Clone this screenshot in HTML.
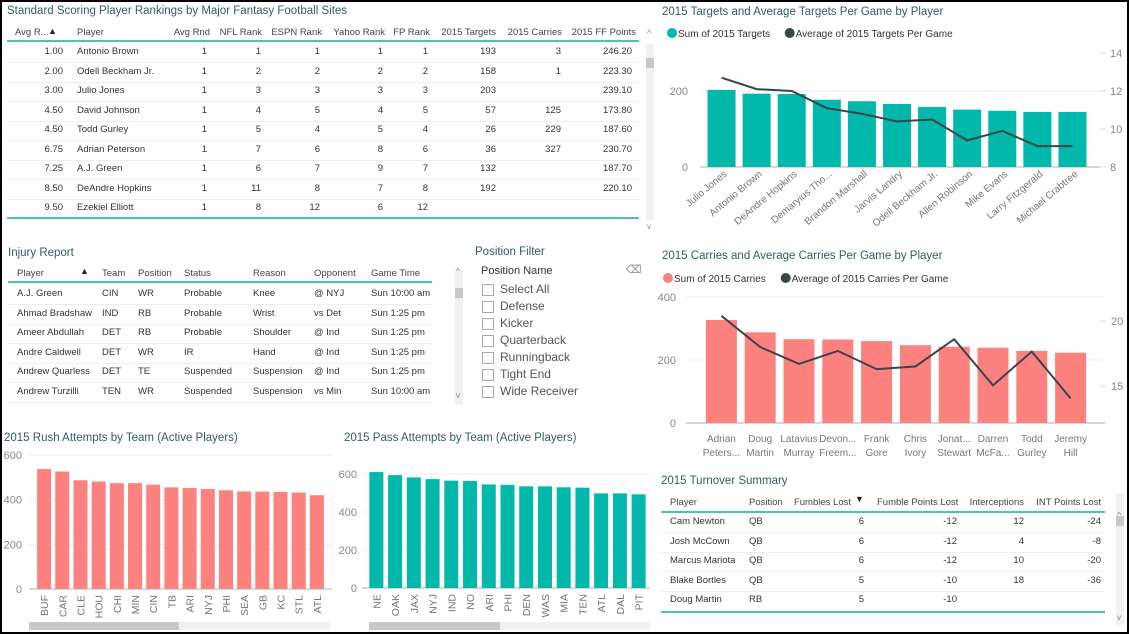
<!DOCTYPE html>
<html><head><meta charset="utf-8">
<style>
body{margin:0;width:1129px;height:634px;overflow:hidden;background:#fff;font-family:"Liberation Sans",sans-serif;}
#frame{position:absolute;left:0;top:0;width:1125px;height:630px;border:2px solid #000;}
.t{position:absolute;white-space:nowrap;font-size:9.5px;color:#333;}
.title{position:absolute;white-space:nowrap;font-size:11.5px;color:#2f5f5f;}
.hd{color:#444;}
.r{text-align:right;}
.line{position:absolute;height:2px;background:#4fc1b5;}
.sep{position:absolute;height:1px;background:#eee;}
.sb{position:absolute;background:#f1f1f1;}
.th{position:absolute;background:#c8c8c8;}
svg{position:absolute;left:0;top:0;}
</style></head><body>
<div id="frame"></div>
<div id="root"></div>
<svg id="chart" width="1129" height="634"></svg>
<script>
// ---------- DATA ----------
const tgtPlayers=["Julio Jones","Antonio Brown","DeAndre Hopkins","Demaryius Tho...","Brandon Marshall","Jarvis Landry","Odell Beckham Jr.","Allen Robinson","Mike Evans","Larry Fitzgerald","Michael Crabtree"];
const tgtSum=[203,193,192,177,173,166,158,151,148,145,145];
const tgtAvg=[12.7,12.1,12.0,11.1,10.8,10.4,10.5,9.4,9.9,9.1,9.1];
const tgtLeftTicks=[0,200];
const tgtRightTicks=[8,10,12,14];
const carPlayers=[["Adrian","Peters..."],["Doug","Martin"],["Latavius","Murray"],["Devon...","Freem..."],["Frank","Gore"],["Chris","Ivory"],["Jonat...","Stewart"],["Darren","McFa..."],["Todd","Gurley"],["Jeremy","Hill"]];
const carSum=[327,288,266,265,260,247,242,239,229,223];
const carAvg=[20.4,18.0,16.7,17.7,16.3,16.5,18.6,15.05,17.65,14.05];
const carLeftTicks=[0,200,400];
const carRightTicks=[15,20];
const rushTeams=["BUF","CAR","CLE","HOU","CHI","MIN","CIN","TB","ARI","NYJ","PHI","SEA","GB","KC","STL","ATL"];
const rushVals=[537,526,487,481,474,474,467,455,452,448,442,437,436,435,432,420];
const rushTicks=[0,200,400,600];
const passTeams=["NE","OAK","JAX","NYJ","IND","NO","ARI","PHI","DEN","WAS","MIA","TEN","ATL","DAL","PIT"];
const passVals=[610,594,582,573,565,563,545,543,535,535,530,528,498,498,493];
const passTicks=[0,200,400,600];

const root=document.getElementById('root');
const svg=document.getElementById('chart');
const NS="http://www.w3.org/2000/svg";
function div(cls,x,y,txt,extra){const d=document.createElement('div');d.className=cls;d.style.left=x+'px';d.style.top=y+'px';if(txt!==undefined)d.textContent=txt;if(extra)d.style.cssText+=extra;root.appendChild(d);return d;}
function rdiv(right,y,txt,cls){const d=div('t r '+(cls||''),right-80,y,txt,'width:80px');return d;}
function el(tag,attrs){const e=document.createElementNS(NS,tag);for(const k in attrs)e.setAttribute(k,attrs[k]);svg.appendChild(e);return e;}
function txt(x,y,s,attrs){const e=el('text',Object.assign({x:x,y:y,'font-size':'10','fill':'#777','font-family':'Liberation Sans, sans-serif'},attrs||{}));e.textContent=s;return e;}

// ---------- TOP TABLE ----------
let d;
d=div('title',7,5,'Standard Scoring Player Rankings by Major Fantasy Football Sites');

const rkHeaders=[["Avg R...",15,'l'],["Player",77,'l'],["Avg Rnd",210],["NFL Rank",262],["ESPN Rank",322],["Yahoo Rank",385],["FP Rank",430],["2015 Targets",496],["2015 Carries",562],["2015 FF Points",636]];
const rkRows=[["1.00","Antonio Brown","1","1","1","1","1","193","3","246.20"],["2.00","Odell Beckham Jr.","1","2","2","2","2","158","1","223.30"],["3.00","Julio Jones","1","3","3","3","3","203","","239.10"],["4.50","David Johnson","1","4","5","4","5","57","125","173.80"],["4.50","Todd Gurley","1","5","4","5","4","26","229","187.60"],["6.75","Adrian Peterson","1","7","6","8","6","36","327","230.70"],["7.25","A.J. Green","1","6","7","9","7","132","","187.70"],["8.50","DeAndre Hopkins","1","11","8","7","8","192","","220.10"],["9.50","Ezekiel Elliott","1","8","12","6","12","","",""]];
const rkRight=[63,0,207,261,320,383,428,496,561,632];
rkHeaders.forEach(h=>{let e;if(h[2]==='l')e=div('t hd',h[1],27,h[0]);else e=rdiv(h[1],27,h[0],'hd');});
div('t',48,26,'▲','font-size:9px;color:#222');
div('line',7,40,undefined,'width:632px');
rkRows.forEach((r,i)=>{const y=46+i*19.5;r.forEach((c,j)=>{if(j===1)div('t',77,y,c);else rdiv(rkRight[j],y,c);});if(i<8)div('sep',7,y+16,undefined,'width:632px');});
div('line',7,217,undefined,'width:632px');
div('sb',646,44,undefined,'width:8px;height:176px');div('th',646,58,undefined,'width:8px;height:10px');
div('t',647,28,'^','font-size:9px;color:#888');div('t',647,222,'v','font-size:8px;color:#888');

// ---------- INJURY REPORT ----------
d=div('title',8,247,'Injury Report');
const injCols=[17,102,138,184,253,314,371];
const injHead=["Player","Team","Position","Status","Reason","Opponent","Game Time"];
const injRows=[["A.J. Green","CIN","WR","Probable","Knee","@  NYJ","Sun 10:00 am"],["Ahmad Bradshaw","IND","RB","Probable","Wrist","vs  Det","Sun 1:25 pm"],["Ameer Abdullah","DET","RB","Probable","Shoulder","@  Ind","Sun 1:25 pm"],["Andre Caldwell","DET","WR","IR","Hand","@  Ind","Sun 1:25 pm"],["Andrew Quarless","DET","TE","Suspended","Suspension","@  Ind","Sun 1:25 pm"],["Andrew Turzilli","TEN","WR","Suspended","Suspension","vs  Min","Sun 10:00 am"]];
injHead.forEach((h,j)=>{const e=div('t hd',injCols[j],268,h);});
div('t',80,266,'▲','font-size:9px;color:#222');
div('line',8,281,undefined,'width:424px');
injRows.forEach((r,i)=>{const y=288+i*19.5;r.forEach((c,j)=>div('t',injCols[j],y,c));div('sep',8,y+16,undefined,'width:424px');});
div('sb',455,270,undefined,'width:8px;height:135px');div('th',455,288,undefined,'width:8px;height:10px');
div('t',456,266,'^','font-size:9px;color:#888');div('t',456,391,'v','font-size:8px;color:#888');

// ---------- POSITION FILTER ----------
d=div('title',475,246,'Position Filter');
d=div('t',481,265,'Position Name','font-size:11px;color:#333');
d=div('t',626,263,'⌫','font-size:11px;color:#888');
["Select All","Defense","Kicker","Quarterback","Runningback","Tight End","Wide Receiver"].forEach((s,i)=>{
 const y=283+i*17;
 const b=div('t',482,y+1,undefined,'width:10px;height:10px;border:1px solid #aaa;background:#fff');
 
 div('t',500,y-1,s,'font-size:12px;color:#555');
});

// ---------- TURNOVER SUMMARY ----------
d=div('title',661,475,'2015 Turnover Summary');
const toHead=[["Player",670,'l'],["Position",749,'l'],["Fumbles Lost",851],["Fumble Points Lost",957],["Interceptions",1024],["INT Points Lost",1101]];
toHead.forEach(h=>{let e;if(h[2]==='l')e=div('t hd',h[1],497,h[0]);else e=rdiv(h[1],497,h[0],'hd');});
div('t',855,494,'▼','font-size:9px;color:#222');
div('line',661,511,undefined,'width:444px');
const toRows=[["Cam Newton","QB","6","-12","12","-24"],["Josh McCown","QB","6","-12","4","-8"],["Marcus Mariota","QB","6","-12","10","-20"],["Blake Bortles","QB","5","-10","18","-36"],["Doug Martin","RB","5","-10","",""]];
const toRight=[0,0,864,957,1024,1101];
toRows.forEach((r,i)=>{const y=516+i*19.5;div('t',670,y,r[0]);div('t',749,y,r[1]);for(let j=2;j<6;j++)rdiv(toRight[j],y,r[j]);if(i<4)div('sep',661,y+16,undefined,'width:444px');});
div('line',661,611,undefined,'width:444px');
div('sb',1116,493,undefined,'width:8px;height:132px');div('th',1116,516,undefined,'width:8px;height:10px');
div('t',1117,510,'^','font-size:9px;color:#888');div('t',1117,613,'v','font-size:8px;color:#888');

// ---------- CHART HELPERS ----------
function scale(d0,d1,r0,r1){return v=>r0+(v-d0)/(d1-d0)*(r1-r0);}
function bars(vals,x0,band,bw,y,color,name){vals.forEach((v,i)=>{const r=el('rect',{x:x0+i*band+(band-bw)/2,y:y(v),width:bw,height:y(0)-y(v),fill:color});
 
 });}
function line(vals,x0,band,y,name){const p=vals.map((v,i)=>(x0+i*band+band/2)+','+y(v)).join(' ');const l=el('polyline',{points:p,fill:'none',stroke:'#374649','stroke-width':2});
 
 }
function legend(x,y,color,label){el('circle',{cx:x+5,cy:y-4,r:5,fill:color});const t=txt(x+11,y,label,{fill:'#333','font-size':'10'});return x+11+label.length*5.3+6;}

// ---------- TARGETS CHART ----------
(function(){
 const t=txt(662,15,'2015 Targets and Average Targets Per Game by Player',{fill:'#2f5f5f','font-size':'11.5'});
 let lx=legend(667,37,'#01b8aa','Sum of 2015 Targets');legend(lx,37,'#374649','Average of 2015 Targets Per Game');
 const x0=704,band=(1090-704)/tgtSum.length,yL=scale(0,200,167,91),yR=scale(8,14,167,53);
 tgtLeftTicks.forEach(v=>{if(v>0)el('line',{x1:700,x2:1102,y1:yL(v),y2:yL(v),stroke:'#eee'});txt(688,yL(v)+4,v,{'text-anchor':'end','fill':'#888','font-size':'11'});});
 tgtRightTicks.forEach(v=>{el('line',{x1:1100,x2:1106,y1:yR(v),y2:yR(v),stroke:'#ddd'});txt(1110,yR(v)+4,v,{'fill':'#888','font-size':'11'});});
 el('line',{x1:700,x2:1100,y1:167,y2:167,stroke:'#ccc','stroke-width':1.5});
 bars(tgtSum,x0,band,28,yL,'#01b8aa','targets-bar');
 line(tgtAvg,x0,band,yR,'avg-targets-line');
 tgtPlayers.forEach((p,i)=>{const cx=x0+i*band+band/2+6;txt(cx,175,p,{'text-anchor':'end','font-size':'10','fill':'#777',transform:`rotate(-40 ${cx} 175)`});});
})();

// ---------- CARRIES CHART ----------
(function(){
 const t=txt(662,259,'2015 Carries and Average Carries Per Game by Player',{fill:'#2f5f5f','font-size':'11.5'});
 let lx=legend(663,282,'#fd817e','Sum of 2015 Carries');legend(lx,282,'#374649','Average of 2015 Carries Per Game');
 const x0=702,band=(1090-702)/carSum.length,yL=scale(0,400,423,297),yR=scale(15,20,386,321);
 carLeftTicks.forEach(v=>{if(v>0)el('line',{x1:686,x2:1105,y1:yL(v),y2:yL(v),stroke:'#eee'});txt(676,yL(v)+4,v,{'text-anchor':'end','fill':'#888','font-size':'11'});});
 carRightTicks.forEach(v=>{el('line',{x1:1100,x2:1106,y1:yR(v),y2:yR(v),stroke:'#ddd'});txt(1111,yR(v)+4,v,{'fill':'#888','font-size':'11'});});
 el('line',{x1:686,x2:1105,y1:423,y2:423,stroke:'#ccc','stroke-width':1.5});
 bars(carSum,x0,band,31,yL,'#fd817e','carries-bar');
 line(carAvg,x0,band,yR,'avg-carries-line');
 carPlayers.forEach((p,i)=>{const cx=x0+i*band+band/2;txt(cx,442,p[0],{'text-anchor':'middle','font-size':'10'});txt(cx,456,p[1],{'text-anchor':'middle','font-size':'10'});});
})();

// ---------- RUSH CHART ----------
(function(){
 const t=txt(4,441,'2015 Rush Attempts by Team (Active Players)',{fill:'#2f5f5f','font-size':'11.5'});
 const x0=35,band=(326-35)/rushVals.length,y=scale(0,600,589,455);
 rushTicks.forEach(v=>{if(v>0)el('line',{x1:29,x2:332,y1:y(v),y2:y(v),stroke:'#eee'});txt(22,y(v)+4,v,{'text-anchor':'end','fill':'#888','font-size':'11'});});
 el('line',{x1:29,x2:332,y1:589,y2:589,stroke:'#ccc','stroke-width':1.5});
 bars(rushVals,x0,band,14,y,'#fd817e','rush-bar');
 rushTeams.forEach((s,i)=>{const cx=x0+i*band+band/2+4;txt(cx,595,s,{'text-anchor':'end','font-size':'10.5',transform:`rotate(-90 ${cx} 595)`});});
 el('rect',{x:29,y:622,width:301,height:8,fill:'#f1f1f1'});
 const th=el('rect',{x:29,y:622,width:150,height:8,fill:'#c8c8c8'});
})();

// ---------- PASS CHART ----------
(function(){
 const t=txt(344,441,'2015 Pass Attempts  by Team (Active Players)',{fill:'#2f5f5f','font-size':'11.5'});
 const x0=367,band=(648-367)/passVals.length,y=scale(0,600,588,474);
 passTicks.forEach(v=>{if(v>0)el('line',{x1:362,x2:650,y1:y(v),y2:y(v),stroke:'#eee'});txt(357,y(v)+4,v,{'text-anchor':'end','fill':'#888','font-size':'11'});});
 el('line',{x1:362,x2:650,y1:588,y2:588,stroke:'#ccc','stroke-width':1.5});
 bars(passVals,x0,band,14,y,'#01b8aa','pass-bar');
 passTeams.forEach((s,i)=>{const cx=x0+i*band+band/2+4;txt(cx,594,s,{'text-anchor':'end','font-size':'10.5',transform:`rotate(-90 ${cx} 594)`});});
 el('rect',{x:369,y:622,width:281,height:8,fill:'#f1f1f1'});
 const th=el('rect',{x:369,y:622,width:131,height:8,fill:'#c8c8c8'});
})();
</script>
</body></html>
